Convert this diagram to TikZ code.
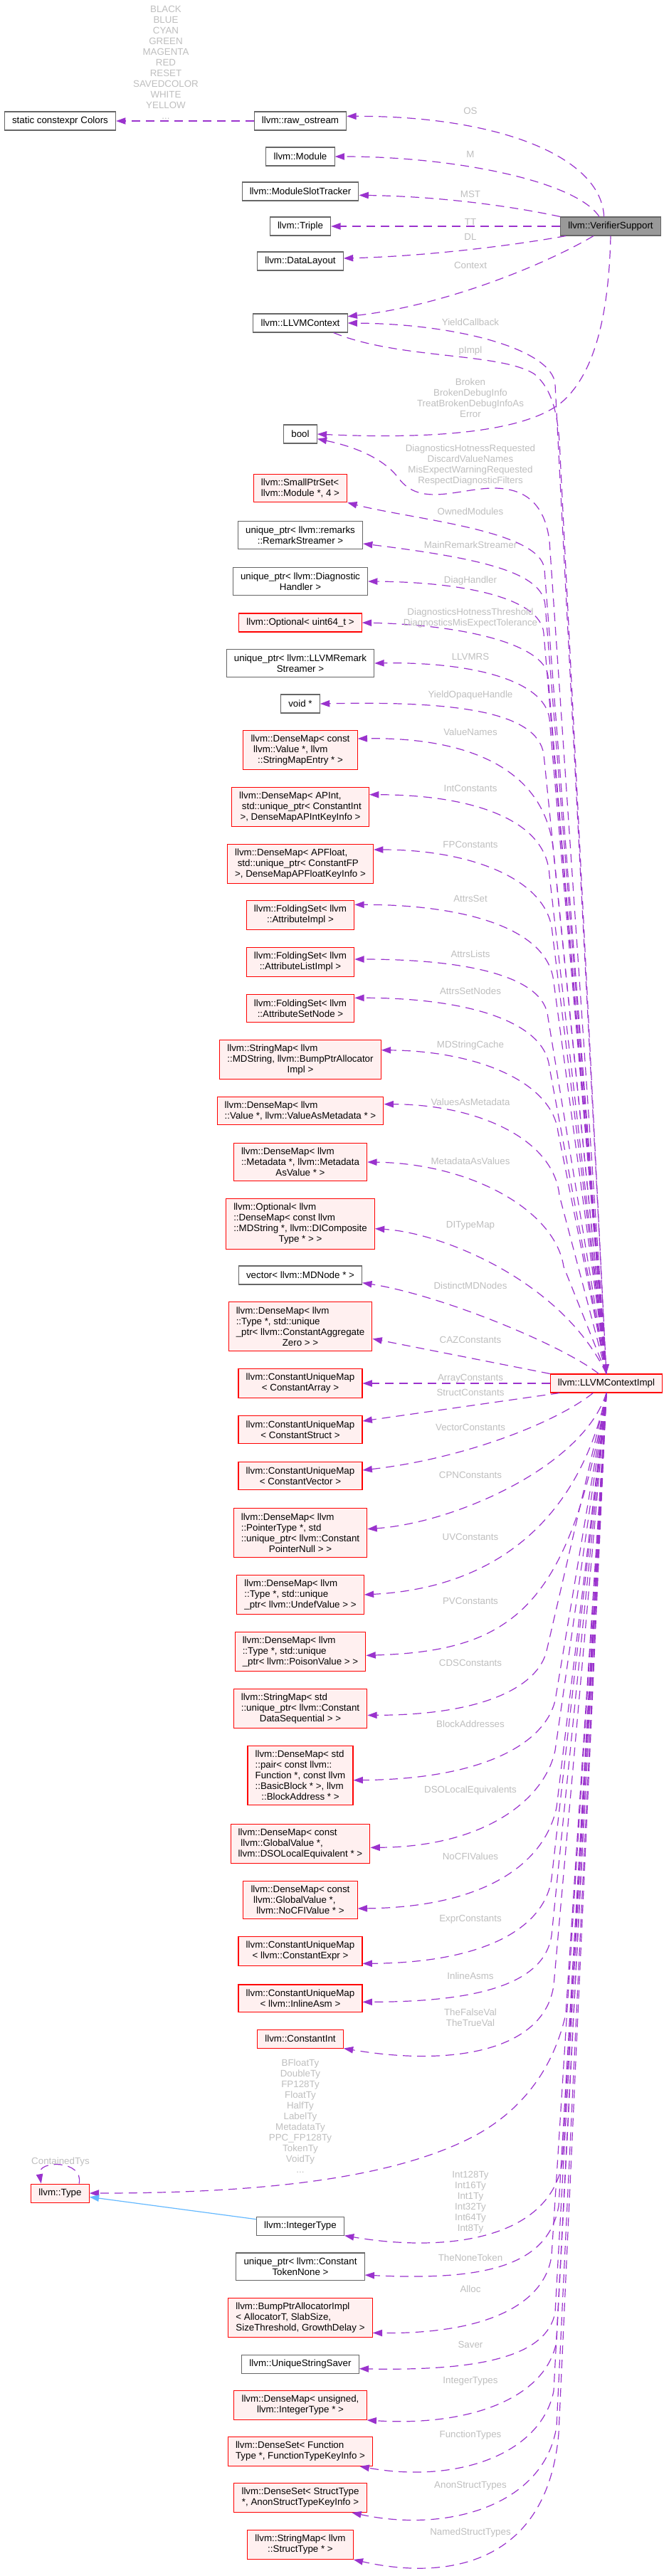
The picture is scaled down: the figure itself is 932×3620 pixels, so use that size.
\documentclass[tikz,border=0pt]{standalone}
\usepackage{fontspec}
\setmainfont{Liberation Sans}
\usetikzlibrary{arrows.meta}
\definecolor{boxline}{HTML}{666666}
\definecolor{rootfill}{HTML}{999999}
\definecolor{undocfill}{HTML}{FFF0F0}
\definecolor{usec}{HTML}{9A32CD}
\definecolor{inhc}{HTML}{63B8FF}
\definecolor{lblc}{HTML}{BEBEBE}
\newcommand{\gvfont}{\fontsize{10}{11.25}\selectfont}
\tikzset{
  cls/.style={draw=boxline, fill=white, line width=0.8pt, align=left, font=\gvfont,
              inner xsep=8pt, inner ysep=5pt, minimum height=19.5pt},
  undoc/.style={cls, draw=red, fill=undocfill},
  rootcls/.style={cls, fill=rootfill},
  lbl/.style={font=\gvfont, text=lblc, align=center, inner sep=0pt},
  dep/.style={usec, line width=0.9pt, dash pattern=on 9pt off 6pt,
              -{Triangle[length=10pt, width=7pt]}},
  inh/.style={inhc, line width=0.9pt, -{Triangle[length=10pt, width=7pt]}},
}
\begin{document}
\begin{tikzpicture}[x=0.75pt, y=-0.75pt]
\useasboundingbox (0,0) rectangle (932,3620);

% ---------------- the verifier support and its members ----------------
\node[cls] (colors) at (84.5,170) {static constexpr Colors};
\node[cls] (raw) at (422,170) {llvm::raw\_ostream};
\node[cls] (module) at (422,220) {llvm::Module};
\node[cls] (mst) at (422,269) {llvm::ModuleSlotTracker};
\node[cls] (triple) at (422,318) {llvm::Triple};
\node[rootcls] (vs) at (858,318) {llvm::VerifierSupport};
\node[cls] (dl) at (422,367) {llvm::DataLayout};
\node[cls] (ctx) at (422,454) {llvm::LLVMContext};
\node[cls] (bool) at (422,610) {bool};

% ---------------- the members of the context implementation ----------------
\node[undoc] (smallptr) at (422,686) {llvm::SmallPtrSet<\\\hfil llvm::Module *, 4 >};
\node[cls] (remark) at (422,752) {unique\_ptr< llvm::remarks\\\hfil::RemarkStreamer >};
\node[cls] (diag) at (422,817) {unique\_ptr< llvm::Diagnostic\\\hfil Handler >};
\node[undoc] (hotness) at (422,875) {llvm::Optional< uint64\_t >};
\node[cls] (llvmrs) at (422,932) {unique\_ptr< llvm::LLVMRemark\\\hfil Streamer >};
\node[cls] (voidp) at (422,989) {void *};
\node[undoc] (valnames) at (422,1054) {llvm::DenseMap< const\\\ llvm::Value *, llvm\\\hfil::StringMapEntry * >};
\node[undoc] (intc) at (422,1134) {llvm::DenseMap< APInt,\\\ std::unique\_ptr< ConstantInt\\\hfil>, DenseMapAPIntKeyInfo >};
\node[undoc] (fpc) at (422,1214) {llvm::DenseMap< APFloat,\\\ std::unique\_ptr< ConstantFP\\\hfil>, DenseMapAPFloatKeyInfo >};
\node[undoc] (attrset) at (422,1286) {llvm::FoldingSet< llvm\\\hfil::AttributeImpl >};
\node[undoc] (attrlist) at (422,1352) {llvm::FoldingSet< llvm\\\hfil::AttributeListImpl >};
\node[undoc] (attrnode) at (422,1417) {llvm::FoldingSet< llvm\\\hfil::AttributeSetNode >};
\node[undoc] (mdstr) at (422,1489) {llvm::StringMap< llvm\\::MDString, llvm::BumpPtrAllocator\\\hfil Impl >};
\node[undoc] (vam) at (422,1561) {llvm::DenseMap< llvm\\\hfil::Value *, llvm::ValueAsMetadata * >};
\node[undoc] (mav) at (422,1633) {llvm::DenseMap< llvm\\::Metadata *, llvm::Metadata\\\hfil AsValue * >};
\node[undoc] (ditype) at (422,1720) {llvm::Optional< llvm\\::DenseMap< const llvm\\::MDString *, llvm::DIComposite\\\hfil Type * > >};
\node[cls] (mdnodes) at (422,1792) {vector< llvm::MDNode * >};
\node[undoc] (caz) at (422,1864) {llvm::DenseMap< llvm\\::Type *, std::unique\\\_ptr< llvm::ConstantAggregate\\\hfil Zero > >};
\node[undoc] (carray) at (422,1944) {llvm::ConstantUniqueMap\\\hfil< ConstantArray >};
\node[undoc] (impl) at (852,1944) {llvm::LLVMContextImpl};
\node[undoc] (cstruct) at (422,2009) {llvm::ConstantUniqueMap\\\hfil< ConstantStruct >};
\node[undoc] (cvector) at (422,2074) {llvm::ConstantUniqueMap\\\hfil< ConstantVector >};
\node[undoc] (cpn) at (422,2154) {llvm::DenseMap< llvm\\::PointerType *, std\\::unique\_ptr< llvm::Constant\\\hfil PointerNull > >};
\node[undoc] (undef) at (422,2241) {llvm::DenseMap< llvm\\::Type *, std::unique\\\hfil\_ptr< llvm::UndefValue > >};
\node[undoc] (poison) at (422,2321) {llvm::DenseMap< llvm\\::Type *, std::unique\\\hfil\_ptr< llvm::PoisonValue > >};
\node[undoc] (cds) at (422,2401) {llvm::StringMap< std\\::unique\_ptr< llvm::Constant\\\hfil DataSequential > >};
\node[undoc] (blockaddr) at (422,2495) {llvm::DenseMap< std\\::pair< const llvm::\\Function *, const llvm\\::BasicBlock * >, llvm\\\hfil::BlockAddress * >};
\node[undoc] (dsoeq) at (422,2591) {llvm::DenseMap< const\\\ llvm::GlobalValue *,\\\hfil llvm::DSOLocalEquivalent * >};
\node[undoc] (nocfi) at (422,2670) {llvm::DenseMap< const\\\ llvm::GlobalValue *,\\\hfil llvm::NoCFIValue * >};
\node[undoc] (cexpr) at (422,2742) {llvm::ConstantUniqueMap\\\hfil< llvm::ConstantExpr >};
\node[undoc] (casm) at (422,2808) {llvm::ConstantUniqueMap\\\hfil< llvm::InlineAsm >};
\node[undoc] (cint) at (422,2865) {llvm::ConstantInt};
\node[undoc] (type) at (84.5,3082) {llvm::Type};
\node[cls] (inttype) at (422,3128) {llvm::IntegerType};
\node[cls] (tokennone) at (422,3185) {unique\_ptr< llvm::Constant\\\hfil TokenNone >};
\node[undoc] (bump) at (422,3257) {llvm::BumpPtrAllocatorImpl\\< AllocatorT, SlabSize,\\\hfil SizeThreshold, GrowthDelay >};
\node[cls] (saver) at (422,3322) {llvm::UniqueStringSaver};
\node[undoc] (inttypes) at (422,3380) {llvm::DenseMap< unsigned,\\\hfil llvm::IntegerType * >};
\node[undoc] (fntypes) at (422,3445) {llvm::DenseSet< Function\\\hfil Type *, FunctionTypeKeyInfo >};
\node[undoc] (anontypes) at (422,3510) {llvm::DenseSet< StructType\\\hfil *, AnonStructTypeKeyInfo >};
\node[undoc] (namedtypes) at (422,3576) {llvm::StringMap< llvm\\\hfil::StructType * >};

% ---------------- edges of the verifier support ----------------
\draw[dep] (raw.west) -- (colors.east);
\draw[dep] ([xshift=-7pt]vs.north) .. controls (845,220) and (700,163) .. ([yshift=5pt]raw.east);
\draw[dep] ([xshift=-12pt]vs.north) .. controls (810,255) and (640,220) .. (module.east);
\draw[dep] (vs.north west) .. controls (720,290) and (620,276) .. ([yshift=-4pt]mst.east);
\draw[dep] (vs.west) -- (triple.east);
\draw[dep] ([xshift=6pt]vs.south west) .. controls (720,345) and (600,360) .. ([yshift=3pt]dl.east);
\draw[dep] ([xshift=-18pt]vs.south) .. controls (760,375) and (620,430) .. ([yshift=7pt]ctx.east);
\draw[dep] (vs.south) .. controls (855,470) and (825,530) .. (795,560) .. controls (750,605) and (620,618) .. (bool.east);

% ---------------- edges of the context implementation, upwards ----------------
\draw[dep] ([xshift=-15pt]ctx.south east) .. controls (560,505) and (700,495) .. (750,525) .. controls (775,545) and (785,580) .. (787,640) -- (impl.north);
\draw[dep] (impl.north) -- (780,540) .. controls (776,490) and (640,455) .. (ctx.east);
\draw[dep] (impl.north) -- (772,760) .. controls (765,705) and (735,685) .. (690,686) .. controls (640,688) and (590,712) .. (560,672) .. controls (540,645) and (500,628) .. ([yshift=-5pt]bool.east);
\draw[dep] (impl.north) -- (765,800) .. controls (760,745) and (580,730) .. (smallptr.south east);
\draw[dep] (impl.north) -- (766,850) .. controls (762,805) and (680,785) .. ([yshift=-9pt]remark.east);
\draw[dep] (impl.north) -- (764,890) .. controls (760,840) and (650,818) .. (diag.east);
\draw[dep] (impl.north) -- (770,950) .. controls (765,905) and (650,878) .. (hotness.east);
\draw[dep] (impl.north) -- (772,1010) .. controls (765,955) and (660,930) .. (llvmrs.east);
\draw[dep] (impl.north) -- (764,1060) .. controls (755,1000) and (640,985) .. (voidp.east);
\draw[dep] (impl.north) -- (778,1200) .. controls (768,1070) and (640,1036) .. ([yshift=12pt]valnames.east);
\draw[dep] (impl.north) -- (772,1230) .. controls (768,1150) and (660,1117) .. ([yshift=13pt]intc.east);
\draw[dep] (impl.north) -- (776,1310) .. controls (770,1235) and (660,1194) .. ([yshift=15pt]fpc.east);
\draw[dep] (impl.north) -- (778,1380) .. controls (770,1300) and (640,1271) .. ([yshift=11pt]attrset.east);
\draw[dep] (impl.north) -- (770,1430) .. controls (765,1370) and (650,1348) .. ([yshift=3pt]attrlist.east);
\draw[dep] (impl.north) -- (772,1500) .. controls (765,1430) and (640,1402) .. ([yshift=11pt]attrnode.east);
\draw[dep] (impl.north) -- (784,1590) .. controls (775,1520) and (670,1477) .. ([yshift=10pt]mdstr.east);
\draw[dep] (impl.north) -- (786,1680) .. controls (778,1600) and (670,1552) .. ([yshift=7pt]vam.east);
\draw[dep] (impl.north) -- (792,1780) .. controls (780,1700) and (660,1635) .. (mav.east);
\draw[dep] (impl.north) .. controls (790,1800) and (620,1732) .. ([yshift=-5pt]ditype.east);
\draw[dep] ([xshift=-8pt]impl.north) .. controls (790,1890) and (620,1820) .. ([yshift=-8pt]mdnodes.east);
\draw[dep] (impl.north west) -- ([yshift=-13pt]caz.east);
\draw[dep] (impl.west) -- (carray.east);

% ---------------- edges of the context implementation, downwards ----------------
\draw[dep] ([xshift=10pt]impl.south west) -- ([yshift=9pt]cstruct.east);
\draw[dep] ([xshift=-14pt]impl.south) .. controls (780,2000) and (650,2050) .. ([yshift=6pt]cvector.east);
\draw[dep] (impl.south) .. controls (820,2060) and (640,2140) .. ([yshift=4pt]cpn.east);
\draw[dep] (impl.south) .. controls (820,2110) and (720,2230) .. (undef.east);
\draw[dep] (impl.south) .. controls (800,2260) and (720,2320) .. ([yshift=-4pt]poison.east);
\draw[dep] (impl.south) -- (768,2320) .. controls (756,2370) and (680,2410) .. ([yshift=-7pt]cds.east);
\draw[dep] (impl.south) -- (780,2390) .. controls (765,2450) and (680,2500) .. ([yshift=-5pt]blockaddr.east);
\draw[dep] (impl.south) -- (780,2460) .. controls (765,2530) and (680,2595) .. ([yshift=-4pt]dsoeq.east);
\draw[dep] (impl.south) -- (782,2540) .. controls (765,2620) and (680,2680) .. ([yshift=-9pt]nocfi.east);
\draw[dep] (impl.south) -- (775,2640) .. controls (765,2710) and (680,2758) .. ([yshift=-13pt]cexpr.east);
\draw[dep] (impl.south) -- (775,2720) .. controls (765,2785) and (680,2813) .. ([yshift=-4pt]casm.east);
\draw[dep] (impl.south) -- (778,2790) .. controls (765,2880) and (640,2905) .. (cint.south east);
\draw[dep] (impl.south) -- (795,2830) .. controls (775,2920) and (720,2975) .. (660,3005) .. controls (560,3055) and (400,3082) .. (type.east);
\draw[dep] (impl.south) -- (790,3040) .. controls (770,3150) and (620,3165) .. (inttype.south east);
\draw[dep] (impl.south) -- (785,3100) .. controls (770,3185) and (680,3205) .. ([yshift=-9pt]tokennone.east);
\draw[dep] (impl.south) -- (775,3170) .. controls (765,3240) and (680,3280) .. ([yshift=-16pt]bump.east);
\draw[dep] (impl.south) -- (780,3250) .. controls (768,3310) and (680,3332) .. ([yshift=-5pt]saver.east);
\draw[dep] (impl.south) -- (782,3290) .. controls (768,3370) and (660,3410) .. (inttypes.south east);
\draw[dep] (impl.south) -- (778,3360) .. controls (760,3450) and (640,3490) .. ([xshift=-14pt]fntypes.south east);
\draw[dep] (impl.south) -- (782,3410) .. controls (765,3520) and (630,3560) .. ([xshift=-16pt]anontypes.south east);
\draw[dep] (impl.south) -- (785,3420) .. controls (768,3610) and (620,3625) .. (namedtypes.south east);

% the type holds types, the integer type is a type
\draw[dep] ([xshift=20pt]type.north) .. controls (118,3035) and (52,3035) .. ([xshift=-20pt]type.north);
\draw[inh] ([yshift=7pt]inttype.west) -- ([yshift=-4pt]type.east);

% ---------------- member names ----------------
\node[lbl] (colorsl) at (233,88) {BLACK\\BLUE\\CYAN\\GREEN\\MAGENTA\\RED\\RESET\\SAVEDCOLOR\\WHITE\\YELLOW\\...};
\node[lbl] (osl) at (661,156) {OS};
\node[lbl] (ml) at (661,217) {M};
\node[lbl] (mstl) at (661,273) {MST};
\node[lbl] (ttl) at (661,312) {TT};
\node[lbl] (dll) at (661,333) {DL};
\node[lbl] (ctxl) at (661,373) {Context};
\node[lbl] (yieldl) at (661,453) {YieldCallback};
\node[lbl] (impll) at (661,493) {pImpl};
\node[lbl] (brokenl) at (661,559.5) {Broken\\BrokenDebugInfo\\TreatBrokenDebugInfoAs\\Error};
\node[lbl] (diagreql) at (661,653.5) {DiagnosticsHotnessRequested\\DiscardValueNames\\MisExpectWarningRequested\\RespectDiagnosticFilters};
\node[lbl] (ownedl) at (661,719) {OwnedModules};
\node[lbl] (mainrsl) at (661,766) {MainRemarkStreamer};
\node[lbl] (diagl) at (661,816) {DiagHandler};
\node[lbl] (hotl) at (661,868.5) {DiagnosticsHotnessThreshold\\DiagnosticsMisExpectTolerance};
\node[lbl] (rsl) at (661,923) {LLVMRS};
\node[lbl] (opaquel) at (661,977) {YieldOpaqueHandle};
\node[lbl] (vnl) at (661,1029) {ValueNames};
\node[lbl] (intcl) at (661,1108) {IntConstants};
\node[lbl] (fpcl) at (661,1187) {FPConstants};
\node[lbl] (asetl) at (661,1263) {AttrsSet};
\node[lbl] (alistl) at (661,1341) {AttrsLists};
\node[lbl] (anodel) at (661,1393) {AttrsSetNodes};
\node[lbl] (mdsl) at (661,1469) {MDStringCache};
\node[lbl] (vaml) at (661,1549) {ValuesAsMetadata};
\node[lbl] (mavl) at (661,1632) {MetadataAsValues};
\node[lbl] (ditl) at (661,1722) {DITypeMap};
\node[lbl] (mdnl) at (661,1807) {DistinctMDNodes};
\node[lbl] (cazl) at (661,1883) {CAZConstants};
\node[lbl] (arrl) at (661,1937) {ArrayConstants};
\node[lbl] (strl) at (661,1957) {StructConstants};
\node[lbl] (vecl) at (661,2006) {VectorConstants};
\node[lbl] (cpnl) at (661,2073) {CPNConstants};
\node[lbl] (uvl) at (661,2160) {UVConstants};
\node[lbl] (pvl) at (661,2250) {PVConstants};
\node[lbl] (cdsl) at (661,2337) {CDSConstants};
\node[lbl] (bal) at (661,2423) {BlockAddresses};
\node[lbl] (dsol) at (661,2516) {DSOLocalEquivalents};
\node[lbl] (cfil) at (661,2609) {NoCFIValues};
\node[lbl] (exprl) at (661,2697) {ExprConstants};
\node[lbl] (asml) at (661,2777) {InlineAsms};
\node[lbl] (booll) at (661,2835.5) {TheFalseVal\\TheTrueVal};
\node[lbl] (tyl) at (422,2973.5) {BFloatTy\\DoubleTy\\FP128Ty\\FloatTy\\HalfTy\\LabelTy\\MetadataTy\\PPC\_FP128Ty\\TokenTy\\VoidTy\\...};
\node[lbl] (containedl) at (85,3038) {ContainedTys};
\node[lbl] (intl) at (661,3094.5) {Int128Ty\\Int16Ty\\Int1Ty\\Int32Ty\\Int64Ty\\Int8Ty};
\node[lbl] (nonel) at (661,3173) {TheNoneToken};
\node[lbl] (allocl) at (661,3217) {Alloc};
\node[lbl] (saverl) at (661,3295) {Saver};
\node[lbl] (inttl) at (661,3346) {IntegerTypes};
\node[lbl] (fnl) at (661,3422) {FunctionTypes};
\node[lbl] (anonl) at (661,3493) {AnonStructTypes};
\node[lbl] (namedl) at (661,3559) {NamedStructTypes};
\end{tikzpicture}
\end{document}
